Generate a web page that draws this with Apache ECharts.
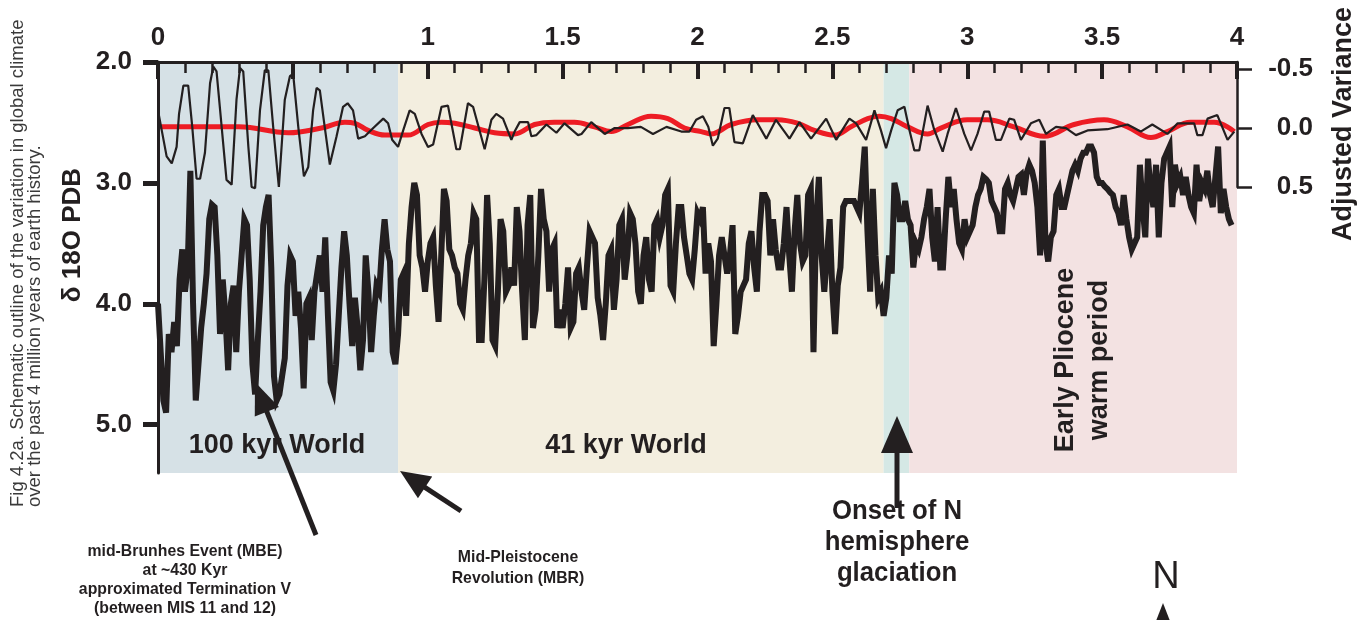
<!DOCTYPE html>
<html>
<head>
<meta charset="utf-8">
<script src="https://cdn.jsdelivr.net/npm/echarts@6/dist/echarts.min.js"></script>
<style>
  html, body { margin: 0; padding: 0; background: #fff; }
  #main { width: 1357px; height: 620px; }
</style>
</head>
<body>
<div id="main"></div>
<script>
// δ18O (PDB), one value every 0.01 Myr from 0.00 to 3.98
const ageStep = 0.01;
const d18O = [
  4.0, 4.4, 4.8, 4.9, 4.25, 4.4, 4.15, 4.35, 3.8, 3.55,
  3.9, 3.7, 2.9, 4.0, 4.8, 4.5, 4.2, 4.0, 3.75, 3.3,
  3.18, 3.2, 3.6, 4.25, 3.8, 4.1, 4.55, 4.0, 3.85, 4.4,
  3.9, 3.6, 3.3, 3.35, 3.8, 4.5, 4.75, 4.3, 3.9, 3.35,
  3.2, 3.1, 3.7, 4.6, 4.8, 4.75, 4.6, 4.45, 3.85, 3.6,
  3.65, 4.1, 3.9, 4.2, 4.7, 4.0, 3.95, 4.3, 3.9, 3.75,
  3.6, 3.9, 3.45, 4.1, 4.65, 4.72, 4.5, 4.1, 3.7, 3.4,
  3.6, 4.0, 4.35, 3.95, 4.2, 4.55, 4.3, 3.6, 3.9, 4.4,
  4.1, 3.85, 3.9, 3.55, 3.3, 3.55, 3.65, 4.4, 4.5, 4.25,
  3.8, 3.75, 4.1, 3.5, 3.2, 3.0, 3.1, 3.6, 3.7, 3.9,
  3.65, 3.5, 3.45, 3.85, 4.15, 3.6, 3.05, 3.15, 3.55, 3.6,
  3.7, 3.75, 4.0, 4.05, 3.8, 3.6, 3.5, 3.25, 3.3, 4.3,
  4.3, 3.8, 3.1, 3.5, 4.3, 4.35, 3.9, 3.3, 3.4, 3.9,
  3.85, 3.7, 3.85, 3.2, 3.4, 3.9, 4.3, 3.35, 3.1, 4.2,
  4.05, 3.6, 3.05, 3.3, 3.4, 3.9, 3.55, 3.5, 4.2, 4.05,
  4.2, 4.0, 3.7, 4.2, 4.15, 3.75, 3.7, 3.9, 4.05, 3.7,
  3.4, 3.45, 3.5, 3.95, 4.1, 4.3, 4.0, 3.6, 3.55, 4.05,
  3.8, 3.35, 3.3, 3.8, 3.6, 3.25, 3.3, 3.5, 3.9, 4.0,
  3.6, 3.45, 3.8, 3.9, 3.35, 3.3, 3.45, 3.35, 3.1, 3.05,
  3.85, 3.9, 3.5, 3.2, 3.2, 3.45, 3.6, 3.75, 3.8, 3.55,
  3.25, 3.3, 3.2, 3.75, 3.5, 3.65, 4.35, 4.0, 3.6, 3.45,
  3.6, 3.75, 3.6, 3.35, 4.25, 4.1, 3.9, 3.85, 3.8, 3.5,
  3.4, 3.7, 3.9, 3.4, 3.1, 3.1, 3.15, 3.6, 3.3, 3.55,
  3.7, 3.7, 3.5, 3.2, 3.6, 3.9, 3.4, 3.1, 3.5, 3.65,
  3.6, 3.1, 3.05, 4.4, 3.3, 2.95, 3.6, 3.9, 3.6, 3.3,
  3.9, 4.25, 3.85, 3.7, 3.2, 3.15, 3.15, 3.15, 3.15, 3.2,
  3.25, 3.0, 2.7, 3.4, 3.9, 3.05, 3.6, 3.95, 3.9, 4.1,
  3.95, 3.6, 3.75, 3.0, 3.1, 3.3, 3.3, 3.15, 3.3, 3.35,
  3.7, 3.5, 3.55, 3.45, 3.3, 3.2, 3.05, 3.45, 3.65, 3.2,
  3.7, 3.7, 3.3, 2.95, 3.2, 3.05, 3.3, 3.5, 3.55, 3.3,
  3.45, 3.4, 3.35, 3.2, 3.1, 3.05, 2.95, 2.97, 3.0, 3.15,
  3.2, 3.25, 3.4, 3.4, 3.05, 3.0, 3.1, 3.15, 3.05, 2.95,
  2.93, 3.1, 2.92, 2.85, 2.9, 3.0, 3.2, 3.6, 2.65, 3.5,
  3.65, 3.45, 3.4, 3.1, 3.05, 3.2, 3.2, 3.1, 3.0, 2.9,
  2.85, 2.9, 2.8, 2.75, 2.75, 2.7, 2.7, 2.75, 2.95, 3.0,
  3.0, 3.03, 3.05, 3.08, 3.1, 3.2, 3.25, 3.35, 3.1, 3.3,
  3.45, 3.55, 3.5, 3.45, 2.85, 3.2, 3.45, 2.8, 3.05, 3.2,
  2.85, 3.45, 3.0, 2.8, 2.75, 2.7, 3.2, 2.85, 3.0, 2.95,
  3.1, 2.95, 3.1, 3.2, 3.25, 2.85, 3.15, 3.0, 3.05, 2.9,
  3.1, 3.2, 2.95, 2.7, 3.25, 3.05, 3.2, 3.3, 3.35
];

// adjusted variance (thin black), [age Myr, value]
const variancePts = [
  [0.00, -0.15], [0.032, 0.24], [0.051, 0.30], [0.069, 0.16], [0.078, -0.12], [0.094, -0.36],
  [0.112, -0.36], [0.127, -0.01], [0.143, 0.43], [0.156, 0.43], [0.174, 0.21], [0.193, -0.38],
  [0.205, -0.52], [0.217, -0.48], [0.236, -0.01], [0.254, 0.44], [0.273, 0.48], [0.291, -0.24],
  [0.304, -0.51], [0.316, -0.48], [0.335, 0.16], [0.347, 0.50], [0.36, 0.51], [0.378, -0.15],
  [0.396, -0.49], [0.409, -0.49], [0.427, -0.01], [0.448, 0.50], [0.47, -0.24], [0.489, -0.44],
  [0.501, -0.46], [0.52, -0.01], [0.541, 0.41], [0.557, 0.33], [0.575, -0.15], [0.588, -0.34],
  [0.60, -0.32], [0.618, -0.01], [0.637, 0.31], [0.662, 0.07], [0.686, -0.18], [0.703, -0.21],
  [0.723, -0.15], [0.742, 0.09], [0.767, 0.07], [0.798, 0.0], [0.835, -0.08], [0.853, -0.04],
  [0.868, 0.10], [0.89, 0.16], [0.909, 0.02], [0.933, -0.15], [0.952, -0.12], [0.977, 0.05],
  [1.001, 0.16], [1.02, 0.14], [1.051, -0.18], [1.075, -0.19], [1.106, 0.18], [1.119, 0.18],
  [1.149, -0.21], [1.168, -0.18], [1.211, 0.18], [1.236, -0.07], [1.254, -0.12], [1.279, -0.08],
  [1.31, 0.10], [1.322, 0.03], [1.341, -0.05], [1.372, -0.05], [1.384, 0.07], [1.403, 0.06],
  [1.44, -0.03], [1.477, 0.04], [1.507, -0.04], [1.557, 0.06], [1.57, 0.05], [1.606, -0.05],
  [1.656, 0.05], [1.693, 0.0], [1.742, 0.0], [1.79, -0.01], [1.835, 0.05], [1.885, -0.01],
  [1.94, 0.03], [1.97, 0.03], [1.995, -0.07], [2.02, -0.10], [2.04, -0.01], [2.057, 0.15],
  [2.075, 0.09], [2.10, -0.17], [2.118, -0.17], [2.137, 0.12], [2.168, 0.13], [2.205, -0.11],
  [2.255, 0.09], [2.291, -0.07], [2.341, 0.09], [2.378, -0.05], [2.421, 0.09], [2.477, -0.08],
  [2.514, 0.10], [2.563, -0.08], [2.588, -0.04], [2.625, 0.10], [2.656, -0.15], [2.68, 0.02],
  [2.699, 0.17], [2.718, 0.02], [2.742, -0.15], [2.767, -0.18], [2.786, 0.02], [2.804, 0.19],
  [2.822, 0.19], [2.853, -0.19], [2.877, 0.01], [2.909, 0.20], [2.927, 0.05], [2.958, -0.17],
  [2.989, 0.05], [3.014, 0.19], [3.038, 0.05], [3.063, -0.14], [3.081, -0.14], [3.106, 0.10],
  [3.125, 0.10], [3.156, -0.08], [3.174, -0.07], [3.199, 0.10], [3.236, -0.04], [3.267, -0.07],
  [3.292, 0.05], [3.329, -0.01], [3.366, 0.0], [3.403, 0.06], [3.446, 0.02], [3.52, 0.01],
  [3.594, -0.03], [3.643, 0.03], [3.686, -0.03], [3.742, 0.05], [3.78, -0.04], [3.841, -0.04],
  [3.853, 0.06], [3.872, 0.06], [3.891, -0.08], [3.927, -0.11], [3.965, 0.10], [3.99, 0.03]
];

// smoothed variance (red), [age Myr, value]
const smoothPts = [
  [0, -0.01], [0.30, -0.01], [0.483, 0.04], [0.606, 0.0], [0.693, -0.05], [0.73, -0.04],
  [0.779, 0.02], [0.841, 0.06], [0.927, 0.06], [1.001, -0.03], [1.05, -0.05], [1.10, -0.04],
  [1.174, 0.0], [1.248, 0.04], [1.322, 0.05], [1.396, -0.03], [1.47, -0.05], [1.544, -0.05],
  [1.618, -0.01], [1.68, 0.03], [1.742, -0.03], [1.828, -0.10], [1.89, -0.08], [1.952, 0.0],
  [2.014, 0.03], [2.05, 0.05], [2.125, -0.03], [2.224, -0.07], [2.297, -0.07], [2.372, -0.04],
  [2.433, 0.02], [2.507, 0.06], [2.569, -0.01], [2.631, -0.08], [2.674, -0.10], [2.718, -0.08],
  [2.779, -0.01], [2.853, 0.05], [2.902, 0.0], [3.0, -0.07], [3.075, -0.07], [3.173, -0.01],
  [3.285, 0.07], [3.396, -0.03], [3.507, -0.07], [3.594, -0.01], [3.681, 0.08], [3.742, 0.03],
  [3.828, -0.05], [3.915, -0.05], [3.99, 0.03]
];

// background periods
const bandEdges = [0, 0.89, 2.69, 2.785, 4.0];
const bandColors = ['#d6e1e6', '#f3eedf', '#d5e8e5', '#f3e2e2'];

const topLabels = [0, 1, 1.5, 2, 2.5, 3, 3.5, 4];
const leftTicks = [2, 3, 4, 5];
const rightTicks = [-0.5, 0, 0.5];

const INK = '#231f20';
const RED = '#ed1c24';
const FONT = "'Liberation Sans', Arial, Helvetica, sans-serif";

function txt(x, y, text, font, opts) {
  return Object.assign({
    type: 'text', x: x, y: y, z: 20,
    style: { text: text, font: font, fill: INK, align: 'center', verticalAlign: 'middle' }
  }, opts || {});
}

function arrow(x1, y1, x2, y2, headLen, headHalf) {
  const dx = x2 - x1, dy = y2 - y1;
  const len = Math.sqrt(dx * dx + dy * dy);
  const ux = dx / len, uy = dy / len;
  const bx = x2 - ux * headLen, by = y2 - uy * headLen;
  const nx = -uy, ny = ux;
  return [
    { type: 'line', z: 20, shape: { x1: x1, y1: y1, x2: bx + ux * 2, y2: by + uy * 2 },
      style: { stroke: INK, lineWidth: 5 } },
    { type: 'polygon', z: 20,
      shape: { points: [[x2, y2], [bx + nx * headHalf, by + ny * headHalf], [bx - nx * headHalf, by - ny * headHalf]] },
      style: { fill: INK } }
  ];
}

const chart = echarts.init(document.getElementById('main'));

const bold = (s) => 'bold ' + s + 'px ' + FONT;
const captionStyle = (t) => ({ text: t, font: '18.5px ' + FONT, fill: '#3a3a3a', align: 'left', verticalAlign: 'middle' });

const graphics = [
  { type: 'text', x: 18, y: 507, z: 20, rotation: Math.PI / 2,
    style: captionStyle('Fig 4.2a. Schematic outline of the variation in global climate') },
  { type: 'text', x: 35, y: 507, z: 20, rotation: Math.PI / 2,
    style: captionStyle('over the past 4 million years of earth history.') },
  txt(73, 235, 'δ 18O PDB', bold(26), { rotation: Math.PI / 2 }),
  txt(1344, 124, 'Adjusted Variance', bold(27), { rotation: Math.PI / 2 }),
  txt(277, 446, '100 kyr World', bold(27)),
  txt(626, 446, '41 kyr World', bold(27)),
  txt(1066, 360, 'Early Pliocene', bold(27), { rotation: Math.PI / 2 }),
  txt(1100, 360, 'warm period', bold(27), { rotation: Math.PI / 2 }),
  txt(185, 551, 'mid-Brunhes Event (MBE)', bold(17), { scaleX: 0.93 }),
  txt(185, 570, 'at ~430 Kyr', bold(17), { scaleX: 0.93 }),
  txt(185, 589, 'approximated Termination V', bold(17), { scaleX: 0.93 }),
  txt(185, 608, '(between MIS 11 and 12)', bold(17), { scaleX: 0.93 }),
  txt(518, 557, 'Mid-Pleistocene', bold(17), { scaleX: 0.93 }),
  txt(518, 578, 'Revolution (MBR)', bold(17), { scaleX: 0.93 }),
  txt(897, 511, 'Onset of N', bold(28), { scaleX: 0.92 }),
  txt(897, 542, 'hemisphere', bold(28), { scaleX: 0.92 }),
  txt(897, 573, 'glaciation', bold(28), { scaleX: 0.92 }),
  txt(1166, 578, 'N', '38px ' + FONT),
  { type: 'polygon', z: 20, shape: { points: [[1163, 603], [1156, 621], [1170, 621]] }, style: { fill: INK } }
].concat(
  arrow(316, 535, 255, 382, 32, 13),
  arrow(461, 511, 400, 471, 30, 13),
  arrow(897, 508, 897, 416, 37, 16)
);

chart.setOption({
  animation: false,
  backgroundColor: '#fff',
  textStyle: { fontFamily: FONT },
  grid: [
    { left: 158, top: 62, width: 1079, height: 411 },
    { left: 158, top: 62, width: 1079, height: 125 }
  ],
  xAxis: [
    {
      type: 'value', gridIndex: 0, position: 'top', min: 0, max: 4, interval: 0.5, z: 5,
      axisLine: { onZero: false, lineStyle: { color: INK, width: 3 } },
      axisTick: { inside: true, length: 17, lineStyle: { color: INK, width: 4 } },
      minorTick: { show: true, splitNumber: 5, length: 11, lineStyle: { color: INK, width: 2.5 } },
      axisLabel: {
        customValues: topLabels, margin: 11, color: INK,
        fontSize: 26, fontWeight: 'bold', fontFamily: FONT,
        formatter: (v) => String(v)
      },
      splitLine: { show: false }
    },
    { type: 'value', gridIndex: 1, min: 0, max: 4, show: false, axisLine: { onZero: false } }
  ],
  yAxis: [
    {
      type: 'value', gridIndex: 0, min: 2, max: 5.4, inverse: true, z: 5,
      axisLine: { show: true, onZero: false, lineStyle: { color: INK, width: 3 } },
      axisTick: { customValues: leftTicks, length: 15, lineStyle: { color: INK, width: 5 } },
      axisLabel: {
        customValues: leftTicks, margin: 26, color: INK,
        fontSize: 26, fontWeight: 'bold', fontFamily: FONT,
        formatter: (v) => v.toFixed(1)
      },
      splitLine: { show: false }
    },
    {
      type: 'value', gridIndex: 1, position: 'right', min: -0.56, max: 0.5, inverse: true, z: 5,
      axisLine: { show: true, onZero: false, lineStyle: { color: INK, width: 2.5 } },
      axisTick: { customValues: rightTicks, length: 15, lineStyle: { color: INK, width: 2.5 } },
      axisLabel: {
        customValues: rightTicks, margin: 76, align: 'right', color: INK,
        fontSize: 26, fontWeight: 'bold', fontFamily: FONT,
        formatter: (v) => v.toFixed(1)
      },
      splitLine: { show: false }
    }
  ],
  series: [
    {
      name: 'd18O', type: 'line', xAxisIndex: 0, yAxisIndex: 0, z: 2,
      data: d18O.map((v, i) => [+(i * ageStep).toFixed(2), v]),
      showSymbol: false, symbol: 'none',
      lineStyle: { color: INK, width: 6, join: 'miter', miterLimit: 6 },
      markArea: {
        silent: true,
        label: { show: false },
        data: bandColors.map((c, i) => [
          { xAxis: bandEdges[i], itemStyle: { color: c, opacity: 1 } },
          { xAxis: bandEdges[i + 1] }
        ])
      }
    },
    {
      name: 'smoothed', type: 'line', xAxisIndex: 1, yAxisIndex: 1, z: 3,
      data: smoothPts, showSymbol: false, symbol: 'none', smooth: 0.4, clip: false,
      lineStyle: { color: RED, width: 5 }
    },
    {
      name: 'variance', type: 'line', xAxisIndex: 1, yAxisIndex: 1, z: 4,
      data: variancePts, showSymbol: false, symbol: 'none', clip: false,
      lineStyle: { color: INK, width: 2.2 }
    }
  ],
  graphic: graphics
});
</script>
</body>
</html>
